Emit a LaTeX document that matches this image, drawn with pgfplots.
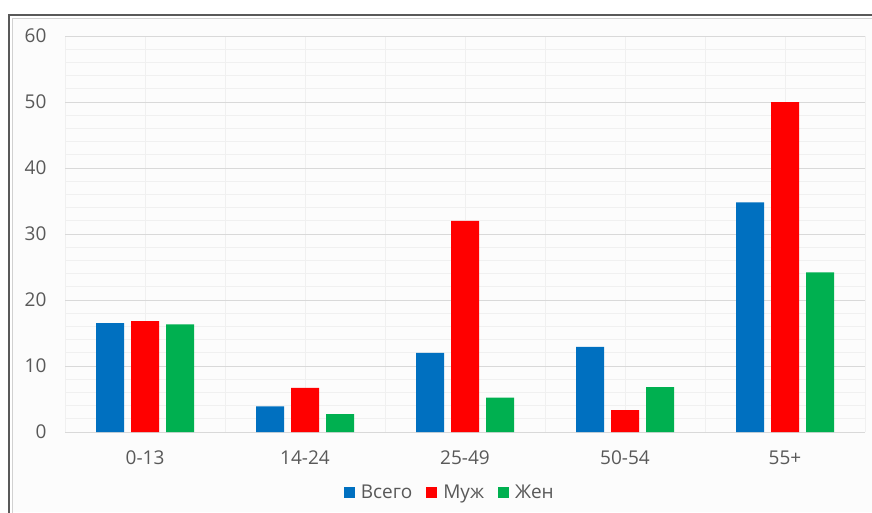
\documentclass[border=0pt]{standalone}
\usepackage{pgfplots}
\pgfplotsset{compat=1.18}
\usepackage{fontspec}
\setmainfont{Open Sans}
\definecolor{cblue}{HTML}{0070C0}
\definecolor{cred}{HTML}{FF0000}
\definecolor{cgreen}{HTML}{00B050}
\definecolor{tgray}{HTML}{595959}
\definecolor{gmaj}{HTML}{D9D9D9}
\definecolor{gmin}{HTML}{F0F0F0}
\begin{document}
\begin{tikzpicture}[x=1pt,y=1pt]
\useasboundingbox (-65,-80) rectangle (807,432);
\fill[white!99!black] (-53,-80) rectangle (807,414);
\draw[line width=1.6pt, black!65] (-56,-82) -- (-56,417) -- (809,417);
\draw[line width=0.8pt, black!18] (-53,-82) -- (-53,414) -- (809,414);
\begin{axis}[
  at={(0,0)}, anchor=south west,
  scale only axis, width=800pt, height=396pt,
  ybar=7pt, bar width=28pt,
  xmin=-0.5, xmax=4.5, ymin=0, ymax=60,
  xtick={0,1,2,3,4},
  xticklabels={0-13,14-24,25-49,50-54,55+},
  minor xtick={-0.5,0.5,1.5,2.5,3.5,4.5},
  ytick={0,10,...,60},
  minor y tick num=4,
  major tick length=0pt, minor tick length=0pt,
  xmajorgrids, xminorgrids, ymajorgrids, yminorgrids,
  major grid style={gmaj, line width=0.9pt},
  minor grid style={gmin, line width=0.9pt},
  x grid style={gmin, line width=0.9pt},
  axis line style={draw=none},
  tick label style={font=\fontsize{19}{22}\selectfont, text=tgray},
  /pgf/number format/assume math mode=true,
  yticklabel style={xshift=-15pt},
  xticklabel style={yshift=-15pt},
  legend style={at={(0.481,-60/396)}, anchor=center, draw=none, fill=none,
    legend columns=3, font=\fontsize{19}{22}\selectfont, text=tgray,
    /tikz/every odd column/.append style={column sep=4pt},
    /tikz/every even column/.append style={column sep=12pt}},
  legend image code/.code={\fill[#1] (0pt,-5.5pt) rectangle (11pt,5.5pt);},
]
\addplot[fill=cblue, draw=none] coordinates {(0,16.5) (1,3.9) (2,12.0) (3,12.9) (4,34.8)};
\addplot[fill=cred, draw=none] coordinates {(0,16.8) (1,6.7) (2,32.0) (3,3.3) (4,50.0)};
\addplot[fill=cgreen, draw=none] coordinates {(0,16.3) (1,2.7) (2,5.2) (3,6.8) (4,24.2)};
\legend{Всего, Муж, Жен}
\end{axis}
\end{tikzpicture}
\end{document}
